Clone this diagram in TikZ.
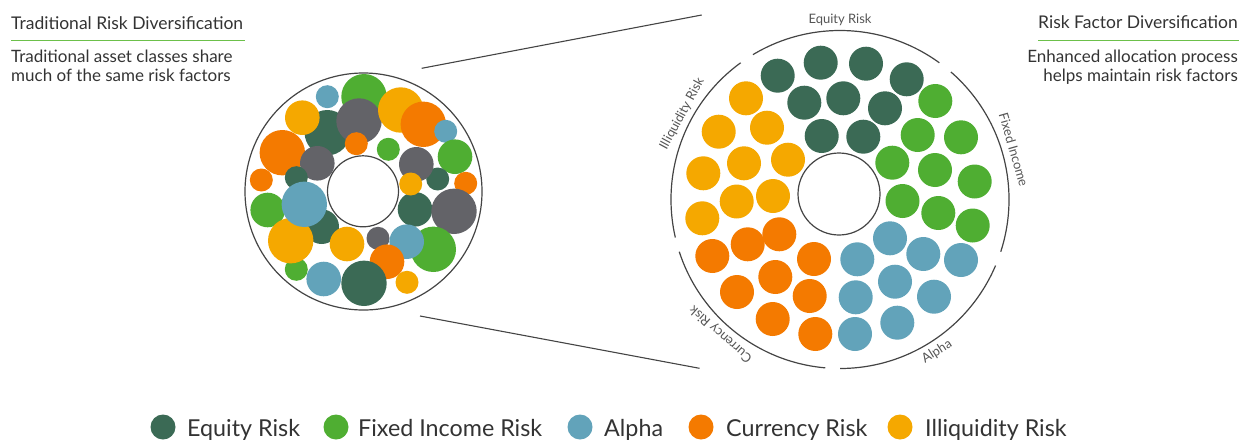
\documentclass[tikz,border=0pt]{standalone}
\usepackage{fontspec}
\setmainfont{Lato}
\definecolor{eq}{HTML}{3B6A55}
\definecolor{fi}{HTML}{4FAE32}
\definecolor{al}{HTML}{62A3BA}
\definecolor{cu}{HTML}{F47A00}
\definecolor{il}{HTML}{F5A800}
\definecolor{gy}{HTML}{636368}
\definecolor{ln}{HTML}{444444}
\definecolor{tx}{HTML}{333333}
\definecolor{lab}{HTML}{555555}
\definecolor{ul}{HTML}{6CC04A}
\newcommand\bub[4]{\fill[#1] (#2,#3) circle[radius=#4];}
\begin{document}
\begin{tikzpicture}[x=1pt,y=-1pt,
  ring/.style={draw=ln,line width=1.2pt},
  conn/.style={draw=ln,line width=1.1pt},
  title/.style={text=tx,inner sep=0pt,font=\fontsize{17.5}{20}\selectfont},
  sub/.style={text=tx,inner sep=0pt,font=\fontsize{17}{18.5}\selectfont},
  arclab/.style={text=lab,inner sep=0pt,anchor=base,font=\fontsize{13}{13}\selectfont},
  legtext/.style={text=tx,inner sep=0pt,anchor=base west,font=\fontsize{23.3}{25}\selectfont}]
\useasboundingbox (0,0) rectangle (1249,439);

% ---------- titles ----------
\node[title,anchor=base west] (tl) at (11,29.5) {Traditional Risk Diversification};
\draw[ul,line width=1.5pt] (11,40.7) -- (245,40.7);
\node[sub,anchor=north west,align=left] (sl) at (11,50) {Traditional asset classes share\\much of the same risk factors};

\node[title,anchor=base east] (tr) at (1238,28.5) {Risk Factor Diversification};
\draw[ul,line width=1.5pt] (1038,40.7) -- (1239,40.7);
\node[sub,anchor=north east,align=right] (sr) at (1238,50) {Enhanced allocation process\\helps maintain risk factors};

% ---------- left circle ----------
\def\S{11.5}\def\M{17.3}\def\L{22.7}
\bub{fi}{364}{96.7}{\L}
\bub{al}{327.3}{96.7}{\S}
\bub{eq}{327.3}{132.7}{\L}
\bub{gy}{359}{121}{\L}
\bub{il}{302.3}{117.7}{\M}
\bub{il}{400.7}{110}{\L}
\bub{cu}{423.3}{124.3}{\L}
\bub{al}{445.7}{131.3}{\S}
\bub{cu}{282.3}{152.7}{\L}
\bub{cu}{356.3}{143.7}{\S}
\bub{fi}{388.3}{149.3}{\S}
\bub{fi}{455}{156.7}{\M}
\bub{gy}{317.3}{163.3}{\M}
\bub{eq}{296.3}{177.7}{\S}
\bub{cu}{261.3}{180}{\S}
\bub{eq}{437.7}{179}{\S}
\bub{gy}{416.3}{164.3}{\M}
\bub{eq}{415}{209.3}{\M}
\bub{il}{410.7}{184}{\S}
\bub{cu}{465.7}{183.3}{\S}
\bub{gy}{454}{211.3}{\L}
\bub{fi}{267.7}{210}{\M}
\bub{eq}{321.7}{226.7}{\M}
\bub{fi}{296.3}{269.3}{\S}
\bub{il}{290.7}{240.7}{\L}
\bub{al}{304.3}{204.3}{\L}
\bub{il}{347}{244}{\M}
\bub{gy}{378}{238.3}{\S}
\bub{fi}{433.3}{249.3}{\L}
\bub{al}{406.7}{241.7}{\M}
\bub{cu}{387}{261.7}{\M}
\bub{al}{323.7}{279}{\M}
\bub{eq}{364}{283.3}{\L}
\bub{il}{407}{282.3}{\S}
\node[ring,circle,inner sep=0pt,minimum size=237pt] (lo) at (363.5,191.5) {};
\node[ring,circle,inner sep=0pt,minimum size=71pt] (li) at (363,191.3) {};

% ---------- connectors ----------
\coordinate (la) at (421.7,68.3);
\coordinate (ra) at (701.7,15);
\coordinate (lb) at (420,316);
\coordinate (rb) at (699.5,368.3);
\draw[conn] (la) -- (ra);
\draw[conn] (lb) -- (rb);

% ---------- right circle ----------
\coordinate (rc) at (840,199.5);
\draw[ring] (rc) ++(-121:169) arc[start angle=-121,end angle=-54,radius=169];
\draw[ring] (rc) ++(-49:169) arc[start angle=-49,end angle=18,radius=169];
\draw[ring] (rc) ++(23:169) arc[start angle=23,end angle=90,radius=169];
\draw[ring] (rc) ++(95:169) arc[start angle=95,end angle=162,radius=169];
\draw[ring] (rc) ++(167:169) arc[start angle=167,end angle=234,radius=169];
\node[ring,circle,inner sep=0pt,minimum size=82pt] (ri) at (839,194) {};

\node[arclab,rotate=0] (a1) at ([shift={(-90:176)}]rc) {Equity Risk};
\node[arclab,rotate=-74] (a2) at ([shift={(-16:176)}]rc) {Fixed Income};
\node[arclab,rotate=32.5] (a3) at ([shift={(57.5:184)}]rc) {Alpha};
\node[arclab,rotate=138.5] (a4) at ([shift={(131.5:176)}]rc) {Currency Risk};
\node[arclab,rotate=61.5] (a5) at ([shift={(-151.5:176)}]rc) {Illiquidity Risk};

\def\R{17}
% equity
\bub{eq}{777.7}{75.7}{\R}\bub{eq}{820.7}{62.7}{\R}\bub{eq}{866}{63.7}{\R}
\bub{eq}{906.7}{79.3}{\R}\bub{eq}{804.3}{102.7}{\R}\bub{eq}{843.3}{98.3}{\R}
\bub{eq}{885}{108.3}{\R}\bub{eq}{821.7}{136}{\R}\bub{eq}{863.3}{136.7}{\R}
% fixed income
\bub{fi}{935.3}{101}{\R}\bub{fi}{917.7}{135}{\R}\bub{fi}{961}{137.3}{\R}
\bub{fi}{892.3}{162.7}{\R}\bub{fi}{935}{170}{\R}\bub{fi}{974.7}{181.5}{\R}
\bub{fi}{902.5}{201}{\R}\bub{fi}{938.3}{213}{\R}\bub{fi}{972.7}{225.5}{\R}
% alpha
\bub{al}{890}{238.3}{\R}\bub{al}{857.3}{259.3}{\R}\bub{al}{923.3}{254}{\R}
\bub{al}{961}{260}{\R}\bub{al}{895}{281.7}{\R}\bub{al}{855.7}{297.3}{\R}
\bub{al}{934}{296.7}{\R}\bub{al}{855}{334}{\R}\bub{al}{897.3}{322.7}{\R}
% currency
\bub{cu}{712.3}{256}{\R}\bub{cu}{747.7}{244.3}{\R}\bub{cu}{779.3}{234.3}{\R}
\bub{cu}{814}{259}{\R}\bub{cu}{775.3}{277}{\R}\bub{cu}{737}{292}{\R}
\bub{cu}{809.7}{296}{\R}\bub{cu}{772.7}{319}{\R}\bub{cu}{815.3}{334}{\R}
% illiquidity
\bub{il}{746}{98.3}{\R}\bub{il}{718.7}{131.7}{\R}\bub{il}{767}{127.7}{\R}
\bub{il}{744}{163.3}{\R}\bub{il}{788}{159.7}{\R}\bub{il}{703.3}{173.3}{\R}
\bub{il}{736.7}{201.5}{\R}\bub{il}{773}{196}{\R}\bub{il}{702.3}{218.3}{\R}

% ---------- legend ----------
\fill[eq] (163,427) circle[radius=12.5];
\node[legtext] (l1) at (187,436) {Equity Risk};
\fill[fi] (336,427) circle[radius=12.5];
\node[legtext] (l2) at (358,436) {Fixed Income Risk};
\fill[al] (580,427) circle[radius=12.5];
\node[legtext] (l3) at (604,436) {Alpha};
\fill[cu] (701,427) circle[radius=12.5];
\node[legtext] (l4) at (726,436) {Currency Risk};
\fill[il] (900,427) circle[radius=12.5];
\node[legtext] (l5) at (925,436) {Illiquidity Risk};
\end{tikzpicture}
\end{document}
